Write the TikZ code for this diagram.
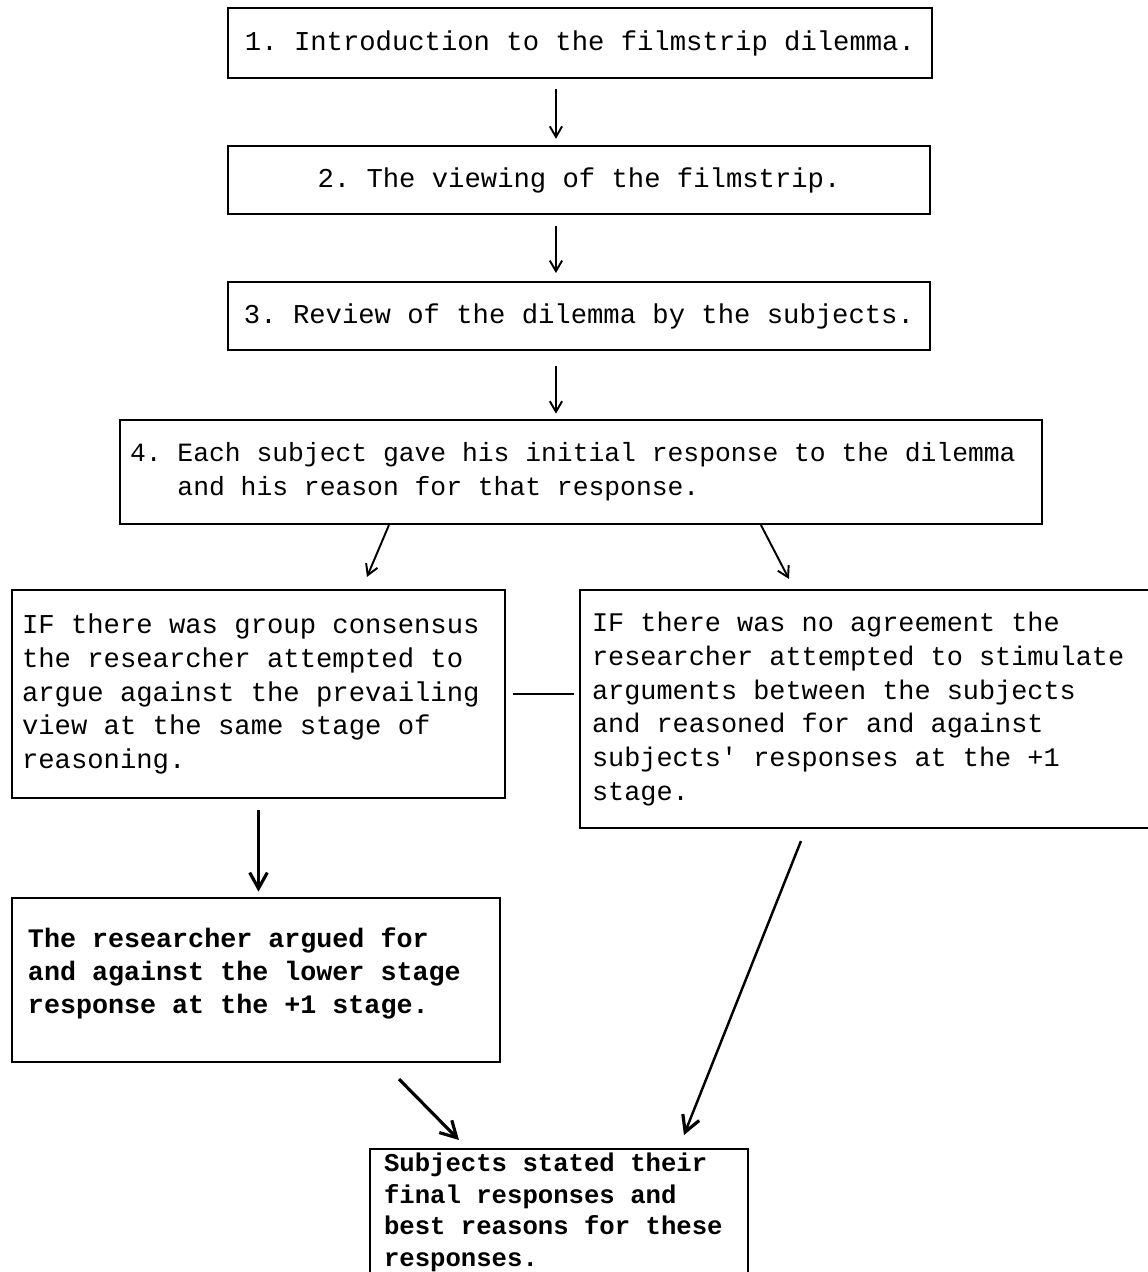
\documentclass[tikz,border=0pt]{standalone}
\usepackage{fontspec}
\setmonofont{Liberation Mono}
\usetikzlibrary{calc,arrows.meta}
\def\px{0.02cm}
\tikzset{
	box/.style={draw, line width=1.2pt, inner sep=0pt, font=\ttfamily\fontsize{15.5}{19.3}\selectfont,
		execute at begin node={\spaceskip=\fontdimen2\font\xspaceskip=\fontdimen2\font\relax}},
	boldbox/.style={box, font=\ttfamily\bfseries\fontsize{15.2}{18.8}\selectfont},
	flow/.style={line width=1.1pt, -{Straight Barb[length=6pt,width=7pt,line width=1.1pt]}},
	heavyflow/.style={line width=1.8pt, -{Straight Barb[length=9pt,width=10pt,line width=1.8pt]}},
}

\begin{document}
\begin{tikzpicture}[x=\px, y=-\px]
			%%%%% START %%%%%
			
			\useasboundingbox (0, 0) rectangle (1148, 1272);
			\clip (0, 0) rectangle (1148, 1272);
			
			\node[box, minimum width=704*\px, minimum height=70*\px] (intro) at (580, 43) {1. Introduction to the filmstrip dilemma.};
			\node[box, minimum width=702*\px, minimum height=68*\px] (viewing) at (579, 180) {2. The viewing of the filmstrip.};
			\node[box, minimum width=702*\px, minimum height=68*\px] (review) at (579, 316) {3. Review of the dilemma by the subjects.};
			
			\node[box, font=\ttfamily\fontsize{15}{19.5}\selectfont, text width=902*\px, inner xsep=10*\px, minimum height=104*\px, align=left] (initial) at (581, 472)
				{4. Each subject gave his initial response to the dilemma\\\hspace*{1.8em}and his reason for that response.};
			
			\node[box, text width=473*\px, inner xsep=10*\px, minimum height=208*\px, align=left] (consensus) at (258.5, 694)
				{IF there was group consensus\\the researcher attempted to\\argue against the prevailing\\view at the same stage of\\reasoning.};
			\node[box, font=\ttfamily\fontsize{15.3}{19.3}\selectfont, text width=548*\px, inner xsep=12*\px, minimum height=238*\px, align=left] (noagree) at (866, 709)
				{IF there was no agreement the\\researcher attempted to stimulate\\arguments between the subjects\\and reasoned for and against\\subjects' responses at the +1\\stage.};
			
			\node[boldbox, text width=456*\px, inner xsep=16*\px, minimum height=164*\px, align=left] (lower) at (256, 980)
				{The researcher argued for\\and against the lower stage\\response at the +1 stage.\\[-8pt]\mbox{}};
			\node[boldbox, font=\ttfamily\bfseries\fontsize{14.6}{18}\selectfont, text width=350*\px, inner xsep=14*\px, inner ysep=4*\px, anchor=north, align=left] (final) at (559, 1148)
				{Subjects stated their\\final responses and\\best reasons for these\\responses.\\\mbox{}};
			
			% connectors
			\draw[flow, shorten <=5.5pt, shorten >=3.5pt] ($(intro.south west)+(329, 0)$) -- ($(viewing.north west)+(329, 0)$);
			\draw[flow, shorten <=6.5pt, shorten >=4.5pt] ($(viewing.south west)+(329, 0)$) -- ($(review.north west)+(329, 0)$);
			\draw[flow, shorten <=8.5pt, shorten >=3pt] ($(review.south west)+(329, 0)$) -- ($(initial.north west)+(437, 0)$);
			
			\draw[flow] ($(initial.south west)+(270, 0)$) -- ($(consensus.north west)+(356, -12)$);
			\draw[flow] ($(initial.south west)+(642, 0)$) -- ($(noagree.north west)+(210, -10)$);
			\draw[line width=1.4pt, shorten <=4pt, shorten >=3pt] (consensus.east) -- (consensus.east -| noagree.west);
			
			\draw[heavyflow, shorten <=6pt, shorten >=3pt] (consensus.south) -- (consensus.south |- lower.north);
			\draw[heavyflow] ($(lower.south west)+(388, 16)$) -- ($(final.north west)+(90, -8)$);
			\draw[heavyflow, line width=1.4pt] ($(noagree.south west)+(222, 12)$) -- ($(final.north west)+(315, -13)$);
			
			%%%%% END %%%%%
\end{tikzpicture}
\end{document}
